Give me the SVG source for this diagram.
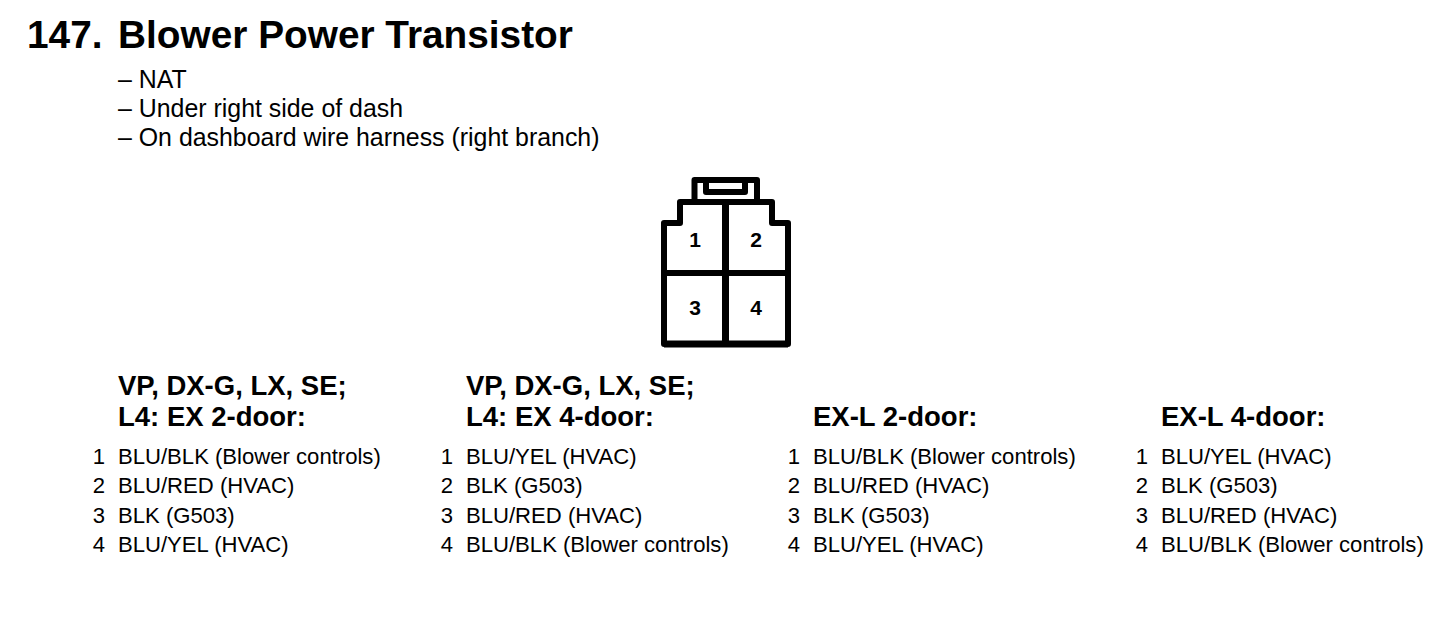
<svg xmlns="http://www.w3.org/2000/svg" width="1456" height="640" viewBox="0 0 1456 640">
<style>
text{font-family:"Liberation Sans",Arial,sans-serif;fill:#000}
.t{font-size:38.800px;font-weight:bold}
.s{font-size:24.900px}
.h{font-size:27.500px;font-weight:bold}
.r{font-size:22.100px}
.n{font-size:22.100px;text-anchor:end}
.p{font-size:21px;font-weight:bold;text-anchor:middle}
.c{fill:none;stroke:#000;stroke-width:6;stroke-linejoin:round}
.w{stroke-width:7}
</style>
<rect width="1456" height="640" fill="#fff"/>
<g id="title">
<text class="t" x="27" y="48">147.</text>
<text class="t" x="118" y="48">Blower Power Transistor</text>
</g>
<g id="notes">
<text class="s" x="118" y="88">– NAT</text>
<text class="s" x="118" y="117">– Under right side of dash</text>
<text class="s" x="118" y="146">– On dashboard wire harness (right branch)</text>
</g>
<g id="connector">
<path class="c" d="M664 344V223H680V202H694.500V180H757V202H772V223H788V344Z"/>
<path class="c" d="M706 183V192H745V183"/>
<path class="c" d="M694.500 202H757M664 273H788"/>
<path class="c w" d="M725.500 202V344M664 344H788"/>
<text class="p" x="695" y="247">1</text>
<text class="p" x="756" y="247">2</text>
<text class="p" x="695" y="315">3</text>
<text class="p" x="756" y="315">4</text>
</g>
<g id="col1">
<text class="h" x="118" y="395">VP, DX-G, LX, SE;</text>
<text class="h" x="118" y="426">L4: EX 2-door:</text>
<text class="n" x="105" y="464">1</text><text class="r" x="118" y="464">BLU/BLK (Blower controls)</text>
<text class="n" x="105" y="493">2</text><text class="r" x="118" y="493">BLU/RED (HVAC)</text>
<text class="n" x="105" y="523">3</text><text class="r" x="118" y="523">BLK (G503)</text>
<text class="n" x="105" y="552">4</text><text class="r" x="118" y="552">BLU/YEL (HVAC)</text>
</g>
<g id="col2">
<text class="h" x="466" y="395">VP, DX-G, LX, SE;</text>
<text class="h" x="466" y="426">L4: EX 4-door:</text>
<text class="n" x="453" y="464">1</text><text class="r" x="466" y="464">BLU/YEL (HVAC)</text>
<text class="n" x="453" y="493">2</text><text class="r" x="466" y="493">BLK (G503)</text>
<text class="n" x="453" y="523">3</text><text class="r" x="466" y="523">BLU/RED (HVAC)</text>
<text class="n" x="453" y="552">4</text><text class="r" x="466" y="552">BLU/BLK (Blower controls)</text>
</g>
<g id="col3">
<text class="h" x="813" y="426">EX-L 2-door:</text>
<text class="n" x="800" y="464">1</text><text class="r" x="813" y="464">BLU/BLK (Blower controls)</text>
<text class="n" x="800" y="493">2</text><text class="r" x="813" y="493">BLU/RED (HVAC)</text>
<text class="n" x="800" y="523">3</text><text class="r" x="813" y="523">BLK (G503)</text>
<text class="n" x="800" y="552">4</text><text class="r" x="813" y="552">BLU/YEL (HVAC)</text>
</g>
<g id="col4">
<text class="h" x="1161" y="426">EX-L 4-door:</text>
<text class="n" x="1148" y="464">1</text><text class="r" x="1161" y="464">BLU/YEL (HVAC)</text>
<text class="n" x="1148" y="493">2</text><text class="r" x="1161" y="493">BLK (G503)</text>
<text class="n" x="1148" y="523">3</text><text class="r" x="1161" y="523">BLU/RED (HVAC)</text>
<text class="n" x="1148" y="552">4</text><text class="r" x="1161" y="552">BLU/BLK (Blower controls)</text>
</g>
</svg>
